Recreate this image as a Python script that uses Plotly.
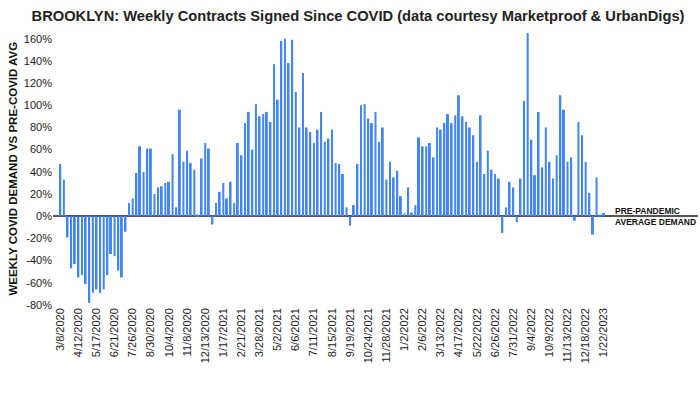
import pandas as pd
import plotly.graph_objects as go

# Weekly demand vs pre-COVID average (%), week starting 3/8/2020
values_2020_2021a = [47, 33, -19, -47, -43, -55, -53, -61, -78, -69,
                     -66, -69, -66, -53, -34, -36, -49, -55, -14, 12,
                     16, 39, 63, 40, 61, 61, 20, 26, 27, 30,
                     31, 56, 8, 96, 49, 59, 48, 42, 1.5, 52,
                     66, 61, -7.5, 12, 22, 30, 16, 31, 12, 66]
values_2021b_2022a = [55, 84, 94, 60, 101, 90, 92, 94, 85, 137,
                      105, 158, 160, 138, 159, 112, 80, 129, 80, 76,
                      66, 78, 94, 67, 70, 78, 48, 47, 38, 8,
                      -8.5, 10, 47, 100, 101, 88, 84, 94, 67, 80,
                      33, 49, 35, 41, 18, 2.4, 26, 3.3, 10, 71]
values_2022b_2023 = [63, 63, 66, 53, 80, 78, 84, 92, 84, 91,
                     109, 90, 85, 80, 73, 49, 91, 38, 59, 42,
                     38, 34, -15, 8, 31, 26, -5.4, 34, 104, 165,
                     69, 37, 94, 44, 80, 49, 34, 55, 109, 96,
                     49, 53, -4, 85, 73, 49, 21, -16.5, 35, 1.5, 3]
values = values_2020_2021a + values_2021b_2022a + values_2022b_2023

weeks = pd.date_range("2020-03-08", periods=len(values), freq="7D")
week_labels = [f"{d.month}/{d.day}/{d.year}" for d in weeks]
tick_labels = week_labels[::5]

y_ticks = list(range(-80, 161, 20))
y_tick_text = [f"{v}%" for v in y_ticks]

FONT = "Arial, Liberation Sans, sans-serif"
L, R = 53, 2
PLOT_W = 700 - L - R

fig = go.Figure(go.Bar(
    x=week_labels, y=values, marker_color="#4285F4", marker_line_width=0,
))

fig.update_layout(
    width=700, height=394,
    margin=dict(l=L, r=R, t=32, b=89, autoexpand=False),
    plot_bgcolor="white", paper_bgcolor="white",
    bargap=0.45,
    showlegend=False,
    font=dict(family=FONT, color="#222", size=11),
    title=dict(
        text="<b>BROOKLYN: Weekly Contracts Signed Since COVID (data courtesy Marketproof &amp; UrbanDigs)</b>",
        x=358 / 700, xanchor="center", y=1 - 15.5 / 394, yanchor="middle",
        font=dict(family=FONT, size=14.7, color="#222"),
    ),
    xaxis=dict(
        type="category", automargin=False,
        range=[-2.0, 176],
        tickmode="array", tickvals=tick_labels, ticktext=tick_labels,
        tickangle=-90, showgrid=False, showline=False, ticks="",
        tickfont=dict(size=11, color="#222"),
    ),
    yaxis=dict(
        automargin=False,
        range=[-80, 166],
        tickmode="array", tickvals=y_ticks, ticktext=y_tick_text,
        showgrid=False, showline=False, ticks="",
        zeroline=True, zerolinecolor="#555", zerolinewidth=2,
        tickfont=dict(size=11, color="#222"),
    ),
    annotations=[
        dict(
            text="<b>WEEKLY COVID DEMAND VS PRE-COVID AVG</b>",
            xref="paper", yref="paper", x=-(L - 12) / PLOT_W, y=0.5,
            xanchor="center", yanchor="middle", textangle=-90, showarrow=False,
            font=dict(family=FONT, size=11.5, color="#111"),
        ),
        dict(
            text="<b>PRE-PANDEMIC<br>AVERAGE DEMAND</b>",
            xref="paper", yref="y", x=(613 - L) / PLOT_W, y=0,
            xanchor="left", yanchor="middle", align="left", showarrow=False,
            font=dict(family=FONT, size=8.5, color="#111"),
        ),
    ],
)

fig.write_html("out.html", config={"displayModeBar": False},
               post_script="document.body.style.margin='0';")
